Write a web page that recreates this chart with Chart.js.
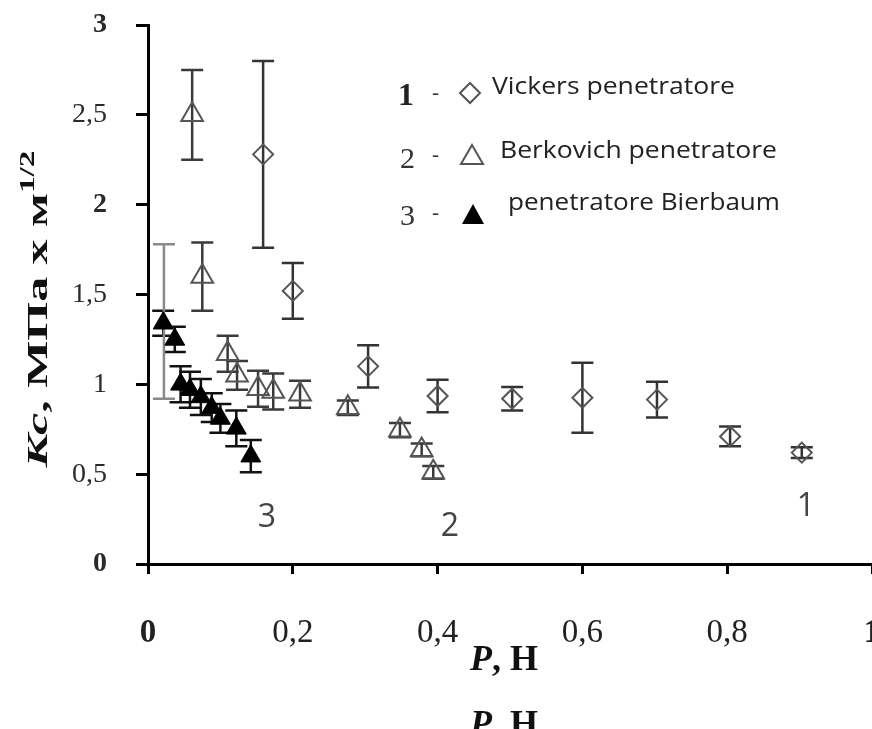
<!DOCTYPE html>
<html>
<head>
<meta charset="utf-8">
<script src="https://cdn.jsdelivr.net/npm/chart.js@4.4.0/dist/chart.umd.min.js"></script>
<style>
  body { margin: 0; background: #fff; }
</style>
</head>
<body>
<canvas id="kcChart" width="872" height="729"></canvas>
<script>
// values: load P (N), Kc and half error bar

// 1 - Vickers
const vickersP = [0.159, 0.200, 0.304, 0.400, 0.503, 0.600, 0.703, 0.804, 0.903];
const vickersKc = [2.28, 1.52, 1.10, 0.935, 0.92, 0.925, 0.915, 0.71, 0.62];
const vickersErr = [0.52, 0.155, 0.117, 0.09, 0.065, 0.195, 0.10, 0.055, 0.03];

// 2 - Berkovich
const berkovichP = [0.022, 0.061, 0.075, 0.110, 0.123, 0.152, 0.173, 0.210, 0.276, 0.348, 0.378, 0.394];
const berkovichKc = [1.35, 2.50, 1.60, 1.17, 1.05, 0.975, 0.96, 0.945, 0.87, 0.745, 0.635, 0.51];
const berkovichErr = [0.43, 0.25, 0.19, 0.10, 0.08, 0.10, 0.10, 0.075, 0.04, 0.04, 0.035, 0.035];

// 3 - Bierbaum
const bierbaumP = [0.021, 0.037, 0.045, 0.058, 0.073, 0.088, 0.100, 0.122, 0.142];
const bierbaumKc = [1.34, 1.25, 1.00, 0.97, 0.93, 0.87, 0.81, 0.755, 0.60];
const bierbaumErr = [0.07, 0.07, 0.10, 0.10, 0.10, 0.08, 0.08, 0.10, 0.09];

const xTicks = [0, 0.2, 0.4, 0.6, 0.8, 1];
const yTicks = [0, 0.5, 1, 1.5, 2, 2.5, 3];

const toPoints = (xs, ys) => xs.map((x, i) => ({ x: x, y: ys[i] }));
const commaNum = (v) => String(Math.round(v * 10) / 10).replace(".", ",");

const SERIF = "'Liberation Serif', 'Times New Roman', serif";
const SANS = "'Open Sans', 'Noto Sans', sans-serif";

// vertical error bars, drawn under the markers
const errorBars = {
  id: "errorBars",
  beforeDatasetsDraw(chart) {
    const { ctx, scales: { x, y } } = chart;
    chart.data.datasets.forEach((ds) => {
      ctx.save();
      ctx.lineWidth = 2.5;
      ds.data.forEach((pt, i) => {
        const px = x.getPixelForValue(pt.x);
        const top = y.getPixelForValue(pt.y + ds.errors[i]);
        const bot = y.getPixelForValue(pt.y - ds.errors[i]);
        ctx.strokeStyle = ds.errorColor(i);
        ctx.beginPath();
        ctx.moveTo(px, top);
        ctx.lineTo(px, bot);
        ctx.moveTo(px - 11, top);
        ctx.lineTo(px + 11, top);
        ctx.moveTo(px - 11, bot);
        ctx.lineTo(px + 11, bot);
        ctx.stroke();
      });
      ctx.restore();
    });
  },
};

// text squeezed or stretched to the width it has in the figure
function fitText(ctx, text, x, y, width) {
  const w = ctx.measureText(text).width;
  ctx.save();
  ctx.translate(x, y);
  ctx.scale(width / w, 1);
  ctx.fillText(text, 0, 0);
  ctx.restore();
}

// legend, curve numbers and axis titles
const annotations = {
  id: "annotations",
  afterDraw(chart) {
    const ctx = chart.ctx;
    ctx.save();

    // legend numbers
    ctx.fillStyle = "#222";
    ctx.textBaseline = "alphabetic";
    ctx.textAlign = "left";
    ctx.font = "bold 32px " + SERIF;
    ctx.fillText("1", 398, 105);
    ctx.font = "30px " + SERIF;
    ctx.fillStyle = "#333";
    ctx.fillText("2", 400, 168);
    ctx.fillText("3", 400, 225);
    ctx.font = "22px " + SANS;
    ctx.fillText("-", 432, 100);
    ctx.fillText("-", 432, 162);
    ctx.fillText("-", 432, 220);

    // legend markers
    ctx.lineWidth = 2;
    ctx.strokeStyle = "#555";
    ctx.beginPath();
    ctx.moveTo(460, 93);
    ctx.lineTo(470, 83);
    ctx.lineTo(480, 93);
    ctx.lineTo(470, 103);
    ctx.closePath();
    ctx.stroke();

    ctx.beginPath();
    ctx.moveTo(472, 145);
    ctx.lineTo(483, 164);
    ctx.lineTo(461, 164);
    ctx.closePath();
    ctx.stroke();

    ctx.fillStyle = "#000";
    ctx.beginPath();
    ctx.moveTo(473, 204);
    ctx.lineTo(484, 224);
    ctx.lineTo(462, 224);
    ctx.closePath();
    ctx.fill();

    // legend texts
    ctx.fillStyle = "#222";
    ctx.font = "23px " + SANS;
    fitText(ctx, "Vickers penetratore", 492, 94, 243);
    fitText(ctx, "Berkovich penetratore", 500, 158, 277);
    fitText(ctx, "penetratore Bierbaum", 508, 210, 272);

    // curve numbers
    ctx.fillStyle = "#444";
    ctx.font = "32px " + SANS;
    ctx.textAlign = "center";
    ctx.fillText("3", 267, 527);
    ctx.fillText("2", 450, 536);
    ctx.fillText("1", 806, 516);

    // x title, plus the cut-off copy at the bottom edge
    ctx.textAlign = "left";
    ctx.fillStyle = "#111";
    [670, 735].forEach((base) => {
      ctx.font = "italic bold 36px " + SERIF;
      ctx.fillText("P", 470, base);
      const pw = ctx.measureText("P").width;
      ctx.font = "bold 36px " + SERIF;
      ctx.fillText(", Н", 470 + pw, base);
    });

    // y title, rotated and stretched along its length
    const main1 = "Кс";
    const main2 = ", МПа х м";
    const sup = "1/2";
    ctx.font = "italic bold 30px " + SERIF;
    const w1 = ctx.measureText(main1).width;
    ctx.font = "bold 30px " + SERIF;
    const w2 = ctx.measureText(main2).width;
    ctx.font = "bold 20px " + SERIF;
    const w3 = ctx.measureText(sup).width;
    const total = w1 + w2 + w3;
    const stretch = 317 / total;
    ctx.translate(47, 309);
    ctx.rotate(-Math.PI / 2);
    ctx.scale(stretch, 1);
    let u = -total / 2;
    ctx.font = "italic bold 30px " + SERIF;
    ctx.fillText(main1, u, 0);
    u += w1;
    ctx.font = "bold 30px " + SERIF;
    ctx.fillText(main2, u, 0);
    u += w2;
    ctx.font = "bold 20px " + SERIF;
    ctx.fillText(sup, u, -13);

    ctx.restore();
  },
};

function initKcChart() {
  const kcCtx = document.getElementById("kcChart").getContext("2d");
  return new Chart(kcCtx, {
    type: "scatter",
    data: {
      datasets: [
        {
          label: "penetratore Bierbaum",
          data: toPoints(bierbaumP, bierbaumKc),
          errors: bierbaumErr,
          errorColor: () => "#111",
          pointStyle: "triangle",
          pointRadius: 11.5,
          backgroundColor: "#000",
          borderColor: "#000",
          borderWidth: 1,
        },
        {
          label: "Berkovich penetratore",
          data: toPoints(berkovichP, berkovichKc),
          errors: berkovichErr,
          errorColor: (i) => (i === 0 ? "#8a8a8a" : "#3a3a3a"),
          pointStyle: "triangle",
          pointRadius: (c) => (c.dataIndex === 0 ? 8 : 12.5),
          backgroundColor: "rgba(0,0,0,0)",
          borderColor: "#555",
          borderWidth: 2,
        },
        {
          label: "Vickers penetratore",
          data: toPoints(vickersP, vickersKc),
          errors: vickersErr,
          errorColor: () => "#333",
          pointStyle: "rectRot",
          pointRadius: 10,
          backgroundColor: "rgba(0,0,0,0)",
          borderColor: "#555",
          borderWidth: 2,
        },
      ],
    },
    options: {
      responsive: false,
      animation: false,
      events: [],
      layout: { autoPadding: false, padding: { left: 0, right: 0, top: 25, bottom: 0 } },
      plugins: {
        legend: { display: false },
        tooltip: { enabled: false },
      },
      scales: {
        x: {
          type: "linear",
          min: 0,
          max: 1,
          afterBuildTicks: (scale) => {
            scale.ticks = xTicks.map((v) => ({ value: v }));
          },
          afterFit: (scale) => {
            scale.height = 165;
            scale.paddingLeft = 0;
            scale.paddingRight = 0;
          },
          border: { display: true, color: "#000", width: 3 },
          grid: {
            drawOnChartArea: false,
            drawTicks: true,
            tickLength: 10,
            color: "#000",
            lineWidth: 3,
          },
          ticks: {
            padding: 40,
            color: "#222",
            maxRotation: 0,
            autoSkip: false,
            font: (c) => ({
              family: SERIF,
              size: 33,
              weight: c.tick && (c.tick.value === 0 || c.tick.value === 1) ? "bold" : "normal",
            }),
            callback: (v) => commaNum(v),
          },
        },
        y: {
          type: "linear",
          min: 0,
          max: 3,
          afterBuildTicks: (scale) => {
            scale.ticks = yTicks.map((v) => ({ value: v }));
          },
          afterFit: (scale) => {
            scale.width = 148;
            scale.paddingTop = 0;
            scale.paddingBottom = 0;
          },
          border: { display: true, color: "#000", width: 3 },
          grid: {
            drawOnChartArea: false,
            drawTicks: true,
            tickLength: 12,
            color: "#000",
            lineWidth: 3,
          },
          ticks: {
            padding: 29,
            color: "#2a2a2a",
            autoSkip: false,
            font: (c) => ({
              family: SERIF,
              size: 28,
              weight: c.tick && [0, 2, 3].includes(c.tick.value) ? "bold" : "normal",
            }),
            callback: (v) => commaNum(v),
          },
        },
      },
    },
    plugins: [errorBars, annotations],
  });
}

document.addEventListener("DOMContentLoaded", () => {
  initKcChart();
});
</script>
</body>
</html>
